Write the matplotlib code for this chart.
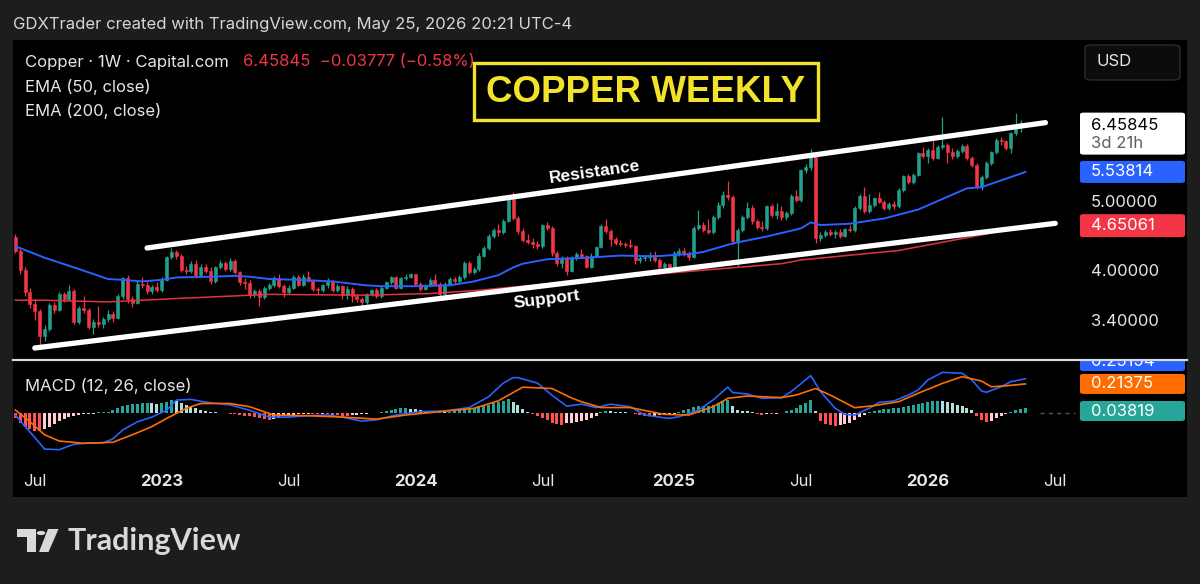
import numpy as np
import matplotlib
matplotlib.use("Agg")
import matplotlib.pyplot as plt
from matplotlib.patches import Rectangle, FancyBboxPatch, Circle, Polygon

# weekly bars, first bar = week of 6 Jun 2022, last = week of 25 May 2026
first_open = 4.48
closes = [
    4.28, 4.03, 3.75, 3.61, 3.52, 3.25, 3.32, 3.59, 3.54, 3.72,
    3.67, 3.76, 3.40, 3.56, 3.53, 3.35, 3.40, 3.38, 3.43, 3.49,
    3.45, 3.70, 3.92, 3.66, 3.62, 3.85, 3.83, 3.76, 3.81, 3.77,
    3.90, 4.20, 4.27, 4.22, 4.03, 4.01, 4.11, 3.96, 4.07, 4.02,
    3.88, 4.06, 4.12, 4.04, 4.15, 4.00, 3.87, 3.86, 3.73, 3.76,
    3.69, 3.80, 3.83, 3.92, 3.82, 3.75, 3.80, 3.94, 3.84, 3.94,
    3.89, 3.79, 3.77, 3.83, 3.89, 3.77, 3.82, 3.71, 3.79, 3.70,
    3.66, 3.63, 3.72, 3.77, 3.70, 3.80, 3.87, 3.93, 3.80, 3.92,
    3.94, 3.97, 3.85, 3.79, 3.83, 3.90, 3.85, 3.73, 3.85, 3.91,
    3.88, 3.93, 4.12, 4.00, 4.04, 4.22, 4.33, 4.50, 4.58, 4.55,
    4.72, 5.07, 4.77, 4.57, 4.44, 4.41, 4.38, 4.35, 4.66, 4.62,
    4.25, 4.12, 4.19, 4.01, 4.18, 4.24, 4.21, 4.07, 4.22, 4.34,
    4.64, 4.57, 4.45, 4.40, 4.38, 4.37, 4.35, 4.16, 4.18, 4.20,
    4.23, 4.16, 4.07, 4.10, 4.05, 4.25, 4.29, 4.25, 4.20, 4.62,
    4.66, 4.59, 4.56, 4.78, 4.97, 5.13, 5.10, 4.42, 4.58, 4.78,
    4.93, 4.72, 4.63, 4.62, 4.95, 4.82, 4.88, 4.78, 4.85, 5.12,
    5.06, 5.57, 5.62, 5.86, 4.47, 4.51, 4.55, 4.53, 4.56, 4.50,
    4.60, 4.58, 4.92, 5.12, 4.88, 4.97, 5.08, 5.03, 4.93, 4.99,
    4.95, 5.22, 5.46, 5.36, 5.49, 5.88, 5.84, 5.95, 5.80, 6.00,
    6.05, 5.90, 5.84, 5.92, 6.03, 5.80, 5.66, 5.28, 5.45, 5.70,
    5.90, 6.15, 6.12, 5.98, 6.28, 6.40, 6.49622, 6.45845,
]
highs = [
    4.52, 4.31, 4.06, 3.80, 3.66, 3.55, 3.37, 3.62, 3.63, 3.75,
    3.75, 3.84, 3.78, 3.58, 3.70, 3.56, 3.43, 3.58, 3.46, 3.53,
    3.52, 3.72, 3.94, 3.96, 3.70, 3.88, 3.93, 3.87, 3.84, 3.87,
    3.93, 4.22, 4.33, 4.30, 4.24, 4.08, 4.14, 4.16, 4.10, 4.10,
    4.06, 4.08, 4.16, 4.14, 4.18, 4.17, 4.02, 3.92, 3.90, 3.79,
    3.78, 3.82, 3.86, 3.95, 3.98, 3.85, 3.83, 3.96, 3.96, 3.97,
    4.02, 3.91, 3.81, 3.85, 3.92, 3.90, 3.85, 3.84, 3.82, 3.81,
    3.72, 3.69, 3.74, 3.79, 3.80, 3.82, 3.89, 3.95, 3.95, 3.94,
    3.98, 3.99, 3.98, 3.87, 3.85, 3.92, 3.97, 3.87, 3.87, 3.94,
    3.93, 3.96, 4.15, 4.15, 4.07, 4.25, 4.36, 4.53, 4.62, 4.68,
    4.76, 5.12, 5.19, 4.80, 4.62, 4.52, 4.47, 4.42, 4.68, 4.70,
    4.64, 4.28, 4.22, 4.21, 4.21, 4.27, 4.31, 4.23, 4.25, 4.36,
    4.67, 4.75, 4.60, 4.48, 4.44, 4.41, 4.46, 4.37, 4.22, 4.23,
    4.27, 4.29, 4.18, 4.13, 4.12, 4.28, 4.33, 4.33, 4.28, 4.65,
    4.90, 4.70, 4.75, 4.81, 5.02, 5.20, 5.37, 5.14, 4.62, 4.82,
    5.02, 4.98, 4.76, 4.72, 4.98, 4.99, 5.00, 4.95, 4.88, 5.15,
    5.22, 5.60, 5.68, 5.96, 5.90, 4.55, 4.58, 4.60, 4.59, 4.60,
    4.62, 4.66, 4.95, 5.15, 5.28, 5.15, 5.10, 5.18, 5.06, 5.02,
    5.04, 5.25, 5.49, 5.50, 5.52, 5.91, 6.00, 5.99, 6.15, 6.04,
    6.62, 6.08, 5.98, 5.96, 6.07, 6.06, 5.84, 5.70, 5.48, 5.73,
    5.93, 6.18, 6.21, 6.15, 6.31, 6.70, 6.55, 6.52,
]
lows = [
    4.25, 3.98, 3.70, 3.56, 3.42, 3.15, 3.20, 3.30, 3.50, 3.52,
    3.63, 3.65, 3.38, 3.38, 3.50, 3.32, 3.27, 3.35, 3.33, 3.40,
    3.40, 3.43, 3.67, 3.62, 3.57, 3.60, 3.80, 3.73, 3.73, 3.75,
    3.75, 3.88, 4.17, 4.17, 4.00, 3.97, 3.99, 3.92, 3.94, 3.99,
    3.85, 3.86, 4.04, 4.01, 4.02, 3.97, 3.84, 3.78, 3.68, 3.69,
    3.58, 3.67, 3.77, 3.81, 3.80, 3.69, 3.73, 3.78, 3.82, 3.82,
    3.87, 3.76, 3.72, 3.75, 3.80, 3.75, 3.75, 3.67, 3.67, 3.63,
    3.63, 3.58, 3.61, 3.70, 3.68, 3.68, 3.78, 3.85, 3.78, 3.78,
    3.90, 3.92, 3.83, 3.76, 3.77, 3.81, 3.83, 3.70, 3.71, 3.83,
    3.85, 3.86, 3.91, 3.98, 3.98, 4.02, 4.20, 4.30, 4.47, 4.50,
    4.52, 4.70, 4.74, 4.53, 4.41, 4.38, 4.33, 4.31, 4.33, 4.58,
    4.22, 4.08, 4.05, 3.96, 4.00, 4.16, 4.18, 4.05, 4.05, 4.20,
    4.32, 4.54, 4.35, 4.37, 4.35, 4.34, 4.32, 4.10, 4.12, 4.15,
    4.14, 4.13, 4.04, 4.05, 3.99, 4.03, 4.22, 4.22, 4.16, 4.18,
    4.58, 4.55, 4.52, 4.53, 4.75, 4.93, 5.05, 4.38, 4.08, 4.55,
    4.75, 4.68, 4.60, 4.57, 4.58, 4.78, 4.75, 4.74, 4.74, 4.82,
    5.02, 5.03, 5.52, 5.58, 4.39, 4.43, 4.48, 4.50, 4.47, 4.47,
    4.48, 4.55, 4.56, 4.90, 4.85, 4.85, 4.94, 5.00, 4.90, 4.90,
    4.91, 4.93, 5.19, 5.32, 5.33, 5.46, 5.80, 5.70, 5.76, 5.77,
    5.97, 5.70, 5.78, 5.80, 5.88, 5.76, 5.62, 5.24, 5.22, 5.42,
    5.67, 5.87, 6.05, 5.95, 5.88, 6.25, 6.30, 6.44,
]

ema50_x = [0, 6, 13, 19, 22, 26, 30, 33, 40, 45, 48, 52, 58, 65, 72, 75, 82, 89, 94,
           99, 102, 104, 109, 117, 124, 131, 138, 141, 147, 154, 161, 163, 165, 171,
           178, 185, 195, 198, 207]
ema50_y = [4.35, 4.19, 4.04, 3.91, 3.90, 3.88, 3.90, 3.93, 3.94, 3.95, 3.94, 3.91, 3.90,
           3.88, 3.83, 3.82, 3.82, 3.83, 3.88, 3.96, 4.06, 4.11, 4.17, 4.19, 4.22, 4.21,
           4.24, 4.27, 4.39, 4.49, 4.61, 4.70, 4.66, 4.68, 4.76, 4.90, 5.25, 5.27, 5.53814]
ema200_x = [0, 6, 19, 33, 52, 72, 85, 95, 104, 127, 157, 161, 181, 200, 207]
ema200_y = [3.65, 3.65, 3.63, 3.67, 3.72, 3.71, 3.73, 3.77, 3.82, 3.95, 4.11, 4.16,
            4.29, 4.54, 4.65061]

hist = [
    -0.04, -0.07, -0.10, -0.12, -0.13, -0.135,
    -0.12, -0.10, -0.08, -0.06, -0.045, -0.03, -0.02,
    -0.012, -0.01, -0.008, -0.004, 0.004, 0.006, 0.01,
    0.02, 0.035, 0.05, 0.06, 0.065, 0.068, 0.07, 0.072, 0.07, 0.068, 0.07, 0.08, 0.095,
    0.09, 0.075, 0.06, 0.045, 0.035, 0.025, 0.015, 0.008,
    0.004, 0.002, -0.003, -0.005, -0.01, -0.015, -0.02, -0.025,
    -0.03, -0.04, -0.045, -0.05, -0.045, -0.035, -0.025, -0.02, -0.015, -0.01, -0.008, -0.005,
    -0.006, -0.01, -0.008, -0.01, -0.012, -0.016, -0.02, -0.022, -0.018, -0.014, -0.01,
    -0.006, -0.002, 0.003, 0.006,
    0.012, 0.02, 0.028, 0.034, 0.036, 0.032, 0.026, 0.02, 0.015, 0.01, 0.008, 0.01,
    0.006, 0.01, 0.014,
    0.02, 0.025, 0.03, 0.04, 0.048, 0.055, 0.062, 0.07, 0.08, 0.09, 0.10, 0.08, 0.058, 0.03,
    0.008, -0.01, -0.025, -0.04, -0.055, -0.07, -0.08, -0.085, -0.075, -0.07, -0.065,
    -0.06, -0.05, -0.04, -0.02,
    0.01, 0.015, 0.012, 0.01, 0.008, 0.005, 0.002,
    -0.008, -0.016, -0.022, -0.025, -0.022, -0.018, -0.014, -0.01, -0.005,
    0.01, 0.02, 0.03, 0.045, 0.05, 0.05, 0.055, 0.06, 0.07, 0.085, 0.095,
    0.05, 0.022, 0.016, 0.014, 0.006,
    -0.008, -0.012, -0.006, -0.01, -0.005, 0.002,
    0.012, 0.022, 0.04, 0.06, 0.075, 0.095, 0.012,
    -0.06, -0.08, -0.09, -0.092, -0.088, -0.08, -0.07, -0.05, -0.03, -0.012,
    0.01, 0.018, 0.024, 0.028, 0.03, 0.034, 0.04, 0.045, 0.05, 0.058, 0.066, 0.074,
    0.08, 0.086, 0.088, 0.085, 0.078, 0.07, 0.06, 0.05, 0.038, 0.02,
    -0.025, -0.055, -0.068, -0.058, -0.04, -0.022, -0.01,
    0.01, 0.02, 0.03, 0.03819,
]
macd_x = [0, 2, 4, 6, 9, 12, 15, 18, 20, 22, 25, 28, 31, 33, 36, 39, 44, 48, 52, 56,
          60, 64, 67, 71, 74, 78, 83, 88, 93, 97, 100, 102, 103, 107, 110, 113, 116,
          119, 122, 126, 129, 134, 136, 140, 143, 146, 147, 150, 153, 157, 159, 163,
          165, 168, 170, 172, 175, 177, 180, 183, 185, 187, 190, 194, 196, 198, 199,
          202, 204, 207]
macd_y = [-0.015, -0.10, -0.18, -0.265, -0.27, -0.23, -0.22, -0.22, -0.19, -0.125,
          -0.065, -0.03, 0.02, 0.095, 0.10, 0.08, 0.06, 0.02, -0.03, -0.03, -0.02,
          -0.015, -0.03, -0.06, -0.05, -0.015, 0.01, 0.015, 0.04, 0.12, 0.22, 0.26,
          0.26, 0.22, 0.13, 0.05, 0.065, 0.04, 0.065, 0.046, -0.015, -0.04, -0.027,
          0.02, 0.096, 0.19, 0.15, 0.14, 0.108, 0.113, 0.157, 0.275, 0.157, 0.035,
          -0.01, -0.015, 0.035, 0.078, 0.088, 0.132, 0.169, 0.243, 0.299, 0.292,
          0.243, 0.162, 0.152, 0.193, 0.23, 0.25194]
sig_x = [0, 3, 6, 9, 14, 20, 24, 28, 31, 35, 38, 44, 48, 53, 60, 67, 74, 80, 87, 94,
         99, 104, 110, 114, 116, 120, 126, 133, 138, 143, 146, 150, 157, 160, 164,
         167, 172, 176, 181, 185, 190, 194, 198, 200, 203, 207]
sig_y = [0.022, -0.064, -0.16, -0.206, -0.223, -0.215, -0.16, -0.10, -0.04, 0.034,
         0.07, 0.07, 0.046, -0.015, -0.02, -0.03, -0.045, -0.015, 0.01, 0.034, 0.09,
         0.19, 0.18, 0.11, 0.083, 0.04, 0.04, -0.01, -0.015, 0.046, 0.108, 0.125,
         0.113, 0.132, 0.18, 0.132, 0.039, 0.054, 0.083, 0.145, 0.218, 0.267, 0.235,
         0.193, 0.20, 0.21375]

tick_pos = [4, 30, 56, 82, 108, 135, 161, 187, 213]
tick_lab = ["Jul", "2023", "Jul", "2024", "Jul", "2025", "Jul", "2026", "Jul"]

# drawn channel lines (bar index, price)
res_x, res_y = [27.0, 211.1], [4.325, 6.50]
sup_x, sup_y = [4.0, 213.1], [3.125, 4.686]

assert len(closes) == len(highs) == len(lows) == len(hist) == 208

GREEN = "#22a08c"
RED = "#f23645"
BLUE = "#2962ff"
ORANGE = "#ff6d00"
TXT = "#e6e6e6"
BG = "#1d1d1d"
UI = ["Inter", "DejaVu Sans"]
FS = 12

W, H = 1200, 584
def fx(x): return x / W
def fy(y): return 1 - y / H

# pixel geometry of the chart
PX0, DX = 15.3, 4.88
def bar_at(px): return (px - PX0) / DX
LN0, KLN = 698.6, 307.7
def price_at(py): return np.exp((LN0 - py) / KLN)
def py_price(p): return LN0 - KLN * np.log(p)
MZ, MK = 413.0, 136.0
def macd_at(py): return (MZ - py) / MK
def py_macd(v): return MZ - v * MK

fig = plt.figure(figsize=(12, 5.84), dpi=100)
fig.patch.set_facecolor(BG)
fig.add_artist(Rectangle((fx(13), fy(497)), 1174 / W, 457 / H, transform=fig.transFigure,
                         fc="black", ec="none", zorder=-1))

# ---- price pane ----
ax = fig.add_axes([fx(13), fy(360), 1174 / W, 320 / H])
ax.set_yscale("log")
ax.set_xlim(bar_at(13), bar_at(1187))
ax.set_ylim(price_at(360), price_at(40))
ax.axis("off")

idx = np.arange(len(closes))
c = np.array(closes)
o = np.array([first_open] + closes[:-1])
col = np.where(c >= o, GREEN, RED)
ax.vlines(idx, lows, highs, colors=col, lw=0.9, zorder=2)
ax.bar(idx, np.maximum(o, c) - np.minimum(o, c), bottom=np.minimum(o, c), width=0.62,
       color=col, edgecolor=col, linewidth=0.4, zorder=3)

ax.plot(ema50_x, ema50_y, color=BLUE, lw=1.4, zorder=4)
ax.plot(ema200_x, ema200_y, color="#e0353f", lw=1.1, zorder=4)

ax.plot(res_x, res_y, color="white", lw=3.8, solid_capstyle="round", zorder=6)
ax.plot(sup_x, sup_y, color="white", lw=3.8, solid_capstyle="round", zorder=6)

fig.text(fx(595), fy(172), "Resistance", color="white", fontsize=12.5, fontweight="bold",
         family="Liberation Sans", rotation=8, ha="center", va="center", rotation_mode="anchor")
fig.text(fx(547), fy(299), "Support", color="white", fontsize=12.5, fontweight="bold",
         family="Liberation Sans", rotation=7, ha="center", va="center", rotation_mode="anchor")

# title box
fig.add_artist(Rectangle((fx(474), fy(120)), 344 / W, 57 / H, transform=fig.transFigure,
                         fc="black", ec="#f2e22c", lw=2.4, zorder=5))
fig.text(fx(646), fy(93), "COPPER WEEKLY", color="#f2e22c", fontsize=26.5, fontweight="bold",
         family="Liberation Sans", ha="center", va="center", zorder=6)

# legend
fig.text(fx(25), fy(62), "Copper · 1W · Capital.com", color=TXT, fontsize=FS, family=UI, va="center")
fig.text(fx(243), fy(62), "6.45845  \u22120.03777 (\u22120.58%)", color=RED, fontsize=FS,
         family=UI, va="center")
fig.text(fx(25), fy(87), "EMA (50, close)", color=TXT, fontsize=FS, family=UI, va="center")
fig.text(fx(25), fy(111), "EMA (200, close)", color=TXT, fontsize=FS, family=UI, va="center")
fig.text(fx(13), fy(25), "GDXTrader created with TradingView.com, May 25, 2026 20:21 UTC-4",
         color="#d6d6d6", fontsize=FS, family=UI, va="center")

# USD button
fig.add_artist(FancyBboxPatch((fx(1085), fy(80)), 95 / W, 35 / H, transform=fig.transFigure,
                              boxstyle="round,pad=0,rounding_size=0.005", fc="#0c0c0c",
                              ec="#2c2c2c", lw=1, zorder=5))
fig.text(fx(1097), fy(62), "USD", color=TXT, fontsize=FS, family=UI, va="center", zorder=6)


def scale_box(axis, y0, y1, color):
    p = FancyBboxPatch((fx(1080), fy(y1)), 105 / W, (y1 - y0) / H, transform=fig.transFigure,
                       boxstyle="round,pad=0,rounding_size=0.003", fc=color, ec="none", zorder=7)
    axis.add_artist(p)


def scale_text(axis, y, s, color):
    axis.text(fx(1091), fy(y), s, color=color, fontsize=FS, family=UI, va="center",
              transform=fig.transFigure, zorder=8, clip_on=True)


# price scale labels
yl = py_price(closes[-1])
scale_box(ax, yl - 12, yl + 30, "white")
scale_text(ax, yl + 1, "6.45845", "black")
scale_text(ax, yl + 19, "3d 21h", "#5d606b")
yb = py_price(ema50_y[-1])
scale_box(ax, yb - 11, yb + 11, BLUE)
scale_text(ax, yb, "5.53814", "white")
yr = py_price(ema200_y[-1])
scale_box(ax, yr - 11.5, yr + 11.5, RED)
scale_text(ax, yr, "4.65061", "white")
for v, s in [(5.0, "5.00000"), (4.0, "4.00000"), (3.4, "3.40000")]:
    scale_text(ax, py_price(v) - 1, s, TXT)

# ---- MACD pane ----
ax2 = fig.add_axes([fx(13), fy(469), 1174 / W, 108 / H])
ax2.set_xlim(bar_at(13), bar_at(1187))
ax2.set_ylim(macd_at(469), macd_at(361))
ax2.axis("off")

hcol = []
prev = 0.0
for h in hist:
    if h >= 0:
        hcol.append("#26a69a" if h >= prev else "#b2dfdb")
    else:
        hcol.append("#ff5252" if h < prev else "#ffcdd2")
    prev = h
ax2.bar(idx, hist, width=0.62, color=hcol, zorder=2)
ax2.plot(macd_x, macd_y, color=BLUE, lw=1.2, zorder=3)
ax2.plot(sig_x, sig_y, color=ORANGE, lw=1.2, zorder=3)
ax2.plot([bar_at(1040), bar_at(1075)], [0, 0], color="#555555", lw=1, ls=(0, (3, 3)))

scale_box(ax2, 351, 371, BLUE)
scale_text(ax2, 361, "0.25194", "white")
yo = py_macd(sig_y[-1])
scale_box(ax2, yo - 10, yo + 10, ORANGE)
scale_text(ax2, yo, "0.21375", "white")
scale_box(ax2, 401, 421, "#26a69a")
scale_text(ax2, 411, "0.03819", "white")

fig.text(fx(25), fy(386), "MACD (12, 26, close)", color=TXT, fontsize=FS, family=UI, va="center")

fig.add_artist(plt.Line2D([fx(13), fx(1187)], [fy(360), fy(360)], transform=fig.transFigure,
                          color="#d8d8d8", lw=1.6, zorder=9))

# time axis
for p, s in zip(tick_pos, tick_lab):
    bold = s[0].isdigit()
    ax2.text(p, (469 - 481) / 108, s, transform=ax2.get_xaxis_transform(), ha="center",
             va="center", color=TXT, fontsize=FS, family=UI,
             fontweight="bold" if bold else "normal", clip_on=False)

# footer logo
LOGO = "#d9d9d9"
fig.add_artist(Polygon([(fx(17), fy(529)), (fx(36), fy(529)), (fx(36), fy(552)), (fx(27), fy(552)),
                        (fx(27), fy(537)), (fx(17), fy(537))], closed=True,
                       transform=fig.transFigure, fc=LOGO, ec="none"))
fig.add_artist(Circle((fx(41), fy(533)), 4.3 / W, transform=fig.transFigure, fc=LOGO, ec="none"))
fig.add_artist(Polygon([(fx(48), fy(529)), (fx(58.5), fy(529)), (fx(48.5), fy(552)), (fx(39), fy(552))],
                       closed=True, transform=fig.transFigure, fc=LOGO, ec="none"))
fig.text(fx(67), fy(541), "TradingView", color=LOGO, fontsize=22, fontweight="bold",
         family=["Lato", "DejaVu Sans"], va="center")

fig.savefig("out.png", dpi=100, facecolor=fig.get_facecolor())
